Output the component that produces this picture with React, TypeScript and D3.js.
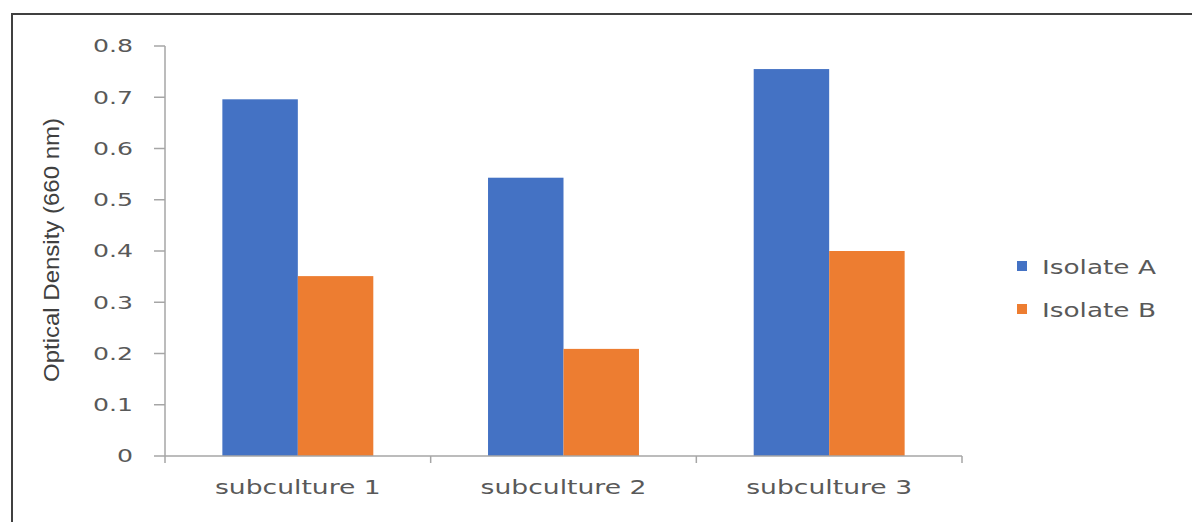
import React from "react";
import * as d3 from "d3";

const categories = ["subculture 1", "subculture 2", "subculture 3"];
const seriesNames = ["Isolate A", "Isolate B"];
const isolateA = [0.696, 0.543, 0.755];
const isolateB = [0.351, 0.209, 0.4];
const yTicks = [0, 0.1, 0.2, 0.3, 0.4, 0.5, 0.6, 0.7, 0.8];
const colors = ["#4472C4", "#ED7D31"];

const W = 1192;
const H = 522;
const left = 165;
const right = 962;
const top = 46;
const bottom = 456;
const textColor = "#595959";
const axisColor = "#A6A6A6";
const font = "'DejaVu Sans', Verdana, sans-serif";
const SX = 1.4;

export default function App() {
  const x0 = d3.scaleBand<string>().domain(categories).range([left, right]).padding(0);
  const x1 = d3
    .scaleBand<string>()
    .domain(seriesNames)
    .range([0, x0.bandwidth()])
    .paddingInner(0)
    .paddingOuter(0.76);
  const y = d3.scaleLinear().domain([0, 0.8]).range([bottom, top]);
  const series = [isolateA, isolateB];
  const boundaries = [...categories.map((c) => x0(c) as number), right];

  return (
    <svg
      width={W}
      height={H}
      style={{ position: "absolute", left: 0, top: 0, background: "#fff" }}
    >
      <rect x={0} y={0} width={W} height={H} fill="#fff" />
      {/* chart border */}
      <rect x={12} y={14} width={W + 20} height={H + 20} fill="none" stroke="#404040" strokeWidth={2} />

      {/* bars */}
      {categories.map((c, i) =>
        seriesNames.map((s, j) => {
          const v = series[j][i];
          return (
            <rect
              key={c + s}
              x={(x0(c) as number) + (x1(s) as number)}
              y={y(v)}
              width={x1.bandwidth()}
              height={bottom - y(v)}
              fill={colors[j]}
            />
          );
        })
      )}

      {/* y axis */}
      <line x1={left} x2={left} y1={top} y2={bottom} stroke={axisColor} strokeWidth={1.5} />
      {yTicks.map((t) => (
        <g key={t}>
          <line x1={left - 11} x2={left} y1={y(t)} y2={y(t)} stroke={axisColor} strokeWidth={1.5} />
          <text
            transform={`translate(133,${y(t)}) scale(${SX},1)`}
            textAnchor="end"
            dy="0.36em"
            fontFamily={font}
            fontSize={18}
            fill={textColor}
          >
            {t === 0 ? "0" : d3.format(".1f")(t)}
          </text>
        </g>
      ))}

      {/* x axis */}
      <line x1={left} x2={right} y1={bottom} y2={bottom} stroke={axisColor} strokeWidth={1.5} />
      {boundaries.map((b, i) => (
        <line key={i} x1={b} x2={b} y1={bottom} y2={bottom + 7} stroke={axisColor} strokeWidth={1.5} />
      ))}
      {categories.map((c) => (
        <text
          key={c}
          transform={`translate(${(x0(c) as number) + x0.bandwidth() / 2},494) scale(${SX},1)`}
          textAnchor="middle"
          fontFamily={font}
          fontSize={19}
          fill={textColor}
        >
          {c}
        </text>
      ))}

      {/* y axis title */}
      <text
        transform="translate(59,250) rotate(-90)"
        textAnchor="middle"
        fontFamily="'Liberation Sans Narrow', 'Liberation Sans', sans-serif"
        fontSize={22}
        fill="#404040"
        textLength={264}
        lengthAdjust="spacingAndGlyphs"
      >
        Optical Density (660 nm)
      </text>

      {/* legend */}
      {seriesNames.map((s, j) => (
        <g key={s}>
          <rect x={1017} y={261 + j * 43} width={10} height={10} fill={colors[j]} />
          <text
            transform={`translate(1042,${274 + j * 43}) scale(${SX * 0.99},1)`}
            fontFamily={font}
            fontSize={19}
            fill={textColor}
          >
            {s}
          </text>
        </g>
      ))}
    </svg>
  );
}
